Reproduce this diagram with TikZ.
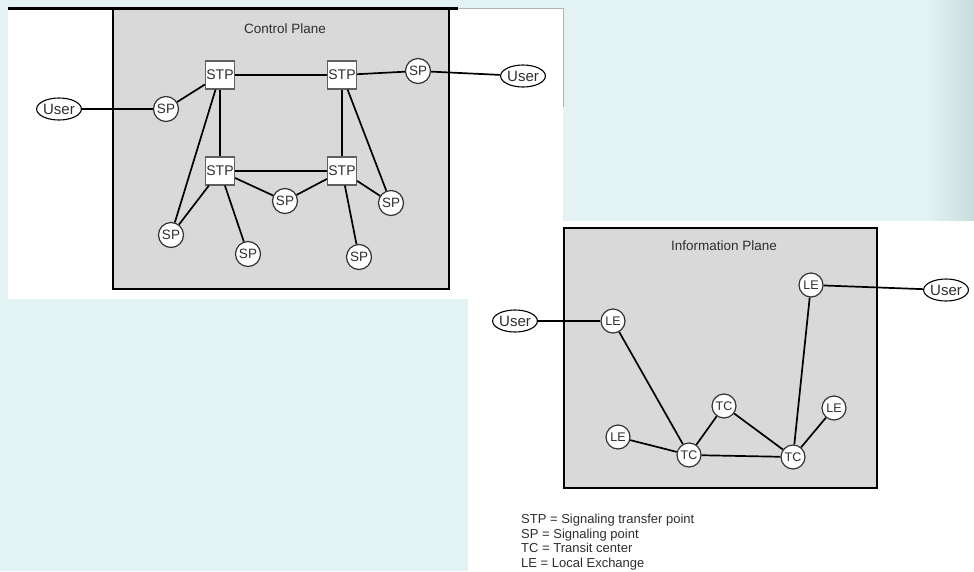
\documentclass[tikz,border=0pt]{standalone}
\usepackage{fontspec}
\setmainfont{Liberation Sans}
\usetikzlibrary{shapes.geometric}
\definecolor{bgcyan}{HTML}{E3F3F4}
\definecolor{bgedge}{HTML}{C9DDDD}
\definecolor{plane}{HTML}{D9D9D9}
\definecolor{txt}{HTML}{2E2E2E}
\begin{document}
\begin{tikzpicture}[x=1pt,y=-1pt,
  stpbox/.style={draw=gray!75!black, line width=1.2pt, fill=white, minimum width=29pt, minimum height=28pt, inner sep=0pt, text=txt, font=\fontsize{14}{14}\selectfont},
  spnode/.style={circle, draw=gray!40!black, line width=1.2pt, fill=white, minimum size=25pt, inner sep=0pt, text=txt, font=\fontsize{13.5}{14}\selectfont},
  lenode/.style={circle, draw=gray!40!black, line width=1.2pt, fill=white, minimum size=24pt, inner sep=0pt, text=txt, font=\fontsize{12.5}{13}\selectfont},
  usernode/.style={ellipse, draw=black, line width=1.1pt, fill=white, minimum width=42pt, minimum height=22pt, inner sep=0pt, text=txt, font=\fontsize{15}{15}\selectfont},
  link/.style={line width=1.7pt, black},
  planebox/.style={fill=plane, draw=black, line width=1.9pt},
  titletext/.style={text=txt, font=\fontsize{13.5}{14}\selectfont}
]
\useasboundingbox (0,0) rectangle (974,571);
% backgrounds
\fill[bgcyan] (0,0) rectangle (974,571);
\shade[left color=bgcyan, right color=bgedge] (925,0) rectangle (974,221);
\fill[white] (8,8) rectangle (563,299);
\fill[white] (468,221) rectangle (974,571);
\draw[gray!60, line width=0.6pt] (458,8.5) -- (563,8.5) -- (563,107);
\draw[black, line width=2.2pt] (8,8.5) -- (458,8.5);

% Control plane
\draw[planebox] (113,9.5) rectangle (449,289);
\node[titletext] (cptitle) at (285,29) {Control Plane};

\node[stpbox] (stp1) at (220,75) {STP};
\node[stpbox] (stp2) at (342,75) {STP};
\node[stpbox] (stp3) at (220,171) {STP};
\node[stpbox] (stp4) at (342,171) {STP};

\node[spnode] (spl)  at (166,109) {SP};
\node[spnode] (spr)  at (418,71) {SP};
\node[spnode] (spm)  at (285,201) {SP};
\node[spnode] (spbl) at (171,235) {SP};
\node[spnode] (spb1) at (248,254) {SP};
\node[spnode] (spr2) at (391,203) {SP};
\node[spnode] (spb2) at (359,257) {SP};

\node[usernode] (userl) at (59,109) {User};
\node[usernode] (userr) at (523,76) {User};

\draw[link] (userl) -- (spl);
\draw[link] (spl) -- (stp1);
\draw[link] (stp1) -- (stp2);
\draw[link] (stp2) -- (spr);
\draw[link] (spr) -- (userr);
\draw[link] (stp1) -- (stp3);
\draw[link] (stp2) -- (stp4);
\draw[link] (stp2) -- (spr2);
\draw[link] (stp3) -- (stp4);
\draw[link] (stp3) -- (spm);
\draw[link] (spm) -- (stp4);
\draw[link] (stp1) -- (spbl);
\draw[link] (stp3) -- (spbl);
\draw[link] (stp3) -- (spb1);
\draw[link] (stp4) -- (spr2);
\draw[link] (stp4) -- (spb2);

% Information plane
\draw[planebox] (564,228) rectangle (877,488);
\node[titletext] (iptitle) at (724,246) {Information Plane};

\node[lenode] (letr) at (811,285) {LE};
\node[lenode] (lel)  at (613,321) {LE};
\node[lenode] (lebl) at (618,437) {LE};
\node[lenode] (ler)  at (834,408) {LE};
\node[lenode] (tct)  at (724,406) {TC};
\node[lenode] (tcl)  at (689,455) {TC};
\node[lenode] (tcr)  at (793,457) {TC};

\node[usernode] (user2l) at (515,321) {User};
\node[usernode] (user2r) at (946,290) {User};

\draw[link] (user2l) -- (lel);
\draw[link] (lel) -- (tcl);
\draw[link] (lebl) -- (tcl);
\draw[link] (tcl) -- (tct);
\draw[link] (tcl) -- (tcr);
\draw[link] (tct) -- (tcr);
\draw[link] (tcr) -- (letr);
\draw[link] (tcr) -- (ler);
\draw[link] (letr) -- (user2r);

% Legend
\node[anchor=north west, align=left, inner sep=0pt, text=txt, font=\fontsize{13}{14.5}\selectfont] (legend) at (521,514) {STP = Signaling transfer point\\SP = Signaling point\\TC = Transit center\\LE = Local Exchange};
\end{tikzpicture}
\end{document}
